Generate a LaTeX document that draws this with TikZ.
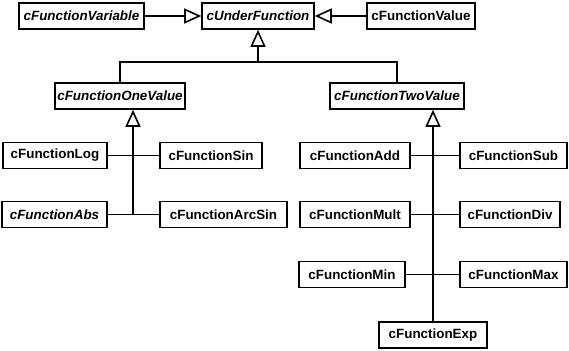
\documentclass[tikz,border=0pt]{standalone}
\usepackage{fontspec}
\setmainfont{Liberation Sans}
\usetikzlibrary{arrows.meta}
\begin{document}
\begin{tikzpicture}[x=1pt,y=-1pt,
  cls/.style={draw, line width=1.6pt, fill=white, inner sep=0pt, minimum height=26pt,
    font=\fontsize{13.4}{15}\selectfont\bfseries},
  abs/.style={cls, font=\fontsize{13.4}{15}\selectfont\bfseries\itshape},
  link/.style={line width=1.6pt},
  inh/.style={line width=1.6pt, -{Triangle[open, length=17pt, width=15pt, fill=white, line width=1.6pt]}}
]
\useasboundingbox (0,0) rectangle (569,350);
% top row
\node[abs, minimum width=125pt] (var) at (81.5,16) {cFunctionVariable};
\node[abs, minimum width=112pt] (under) at (258,16) {cUnderFunction};
\node[cls, minimum width=108pt] (val) at (421,16) {cFunctionValue};
% second row
\node[abs, minimum width=130pt] (one) at (120,96) {cFunctionOneValue};
\node[abs, minimum width=134pt] (two) at (397,96) {cFunctionTwoValue};
% left leaves
\node[cls, minimum width=104pt] (log) at (55,155.5) {cFunctionLog};
\node[cls, minimum width=102pt] (sin) at (211,155.5) {cFunctionSin};
\node[abs, minimum width=105pt] (abs) at (54.5,214.5) {cFunctionAbs};
\node[cls, minimum width=127pt] (arcsin) at (223.5,214.5) {cFunctionArcSin};
% right leaves
\node[cls, minimum width=110pt] (add) at (355,155.5) {cFunctionAdd};
\node[cls, minimum width=107pt] (sub) at (513.5,155.5) {cFunctionSub};
\node[cls, minimum width=110pt] (mult) at (355,214.5) {cFunctionMult};
\node[cls, minimum width=100pt] (div) at (510,214.5) {cFunctionDiv};
\node[cls, minimum width=106pt] (min) at (352,274.5) {cFunctionMin};
\node[cls, minimum width=107pt] (max) at (513.5,274.5) {cFunctionMax};
\node[cls, minimum width=108pt] (exp) at (433,335) {cFunctionExp};
% coordinates
\coordinate (jtop) at (258,62);
\coordinate (jone) at (133,214.5);
% top connections
\draw[inh] (var) -- (under);
\draw[inh] (val) -- (under);
\draw[link] (one.north) |- (jtop);
\draw[link] (two.north) |- (jtop);
\draw[inh] (jtop) -- (under.south);
% one value subtree
\draw[link] (log.east) -- (sin.west);
\draw[link] (abs.east) -- (arcsin.west);
\draw[inh] (jone) -- (jone |- one.south);
% two value subtree
\draw[link] (add.east) -- (sub.west);
\draw[link] (mult.east) -- (div.west);
\draw[link] (min.east) -- (max.west);
\draw[inh] (exp.north) -- (exp.north |- two.south);
\end{tikzpicture}
\end{document}
